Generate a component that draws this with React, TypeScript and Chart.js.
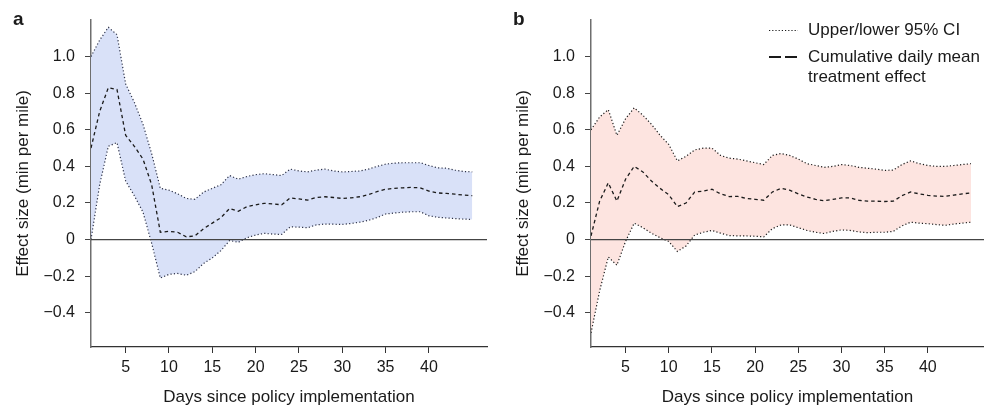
import React, { useEffect, useRef } from "react";
import { Chart, registerables } from "chart.js";
Chart.register(...registerables);

const DAYS = [1, 2, 3, 4, 5, 6, 7, 8, 9, 10, 11, 12, 13, 14, 15, 16, 17, 18, 19, 20, 21, 22, 23, 24, 25, 26, 27, 28, 29, 30, 31, 32, 33, 34, 35, 36, 37, 38, 39, 40, 41, 42, 43, 44, 45];

const A_UPPER = [1.0, 1.09, 1.16, 1.12, 0.85, 0.75, 0.63, 0.47, 0.28, 0.27, 0.25, 0.225, 0.22, 0.26, 0.28, 0.3, 0.35, 0.33, 0.345, 0.355, 0.36, 0.355, 0.35, 0.385, 0.375, 0.37, 0.38, 0.385, 0.375, 0.37, 0.372, 0.375, 0.385, 0.4, 0.412, 0.418, 0.42, 0.42, 0.42, 0.405, 0.392, 0.39, 0.38, 0.372, 0.37];
const A_MEAN = [0.5, 0.7, 0.83, 0.82, 0.57, 0.51, 0.44, 0.3, 0.04, 0.045, 0.04, 0.015, 0.02, 0.06, 0.09, 0.12, 0.17, 0.155, 0.18, 0.19, 0.198, 0.195, 0.19, 0.228, 0.222, 0.216, 0.23, 0.234, 0.23, 0.225, 0.228, 0.234, 0.245, 0.262, 0.275, 0.28, 0.283, 0.285, 0.283, 0.265, 0.255, 0.252, 0.248, 0.243, 0.24];
const A_LOWER = [0.0, 0.3, 0.51, 0.53, 0.32, 0.24, 0.15, -0.02, -0.21, -0.19, -0.185, -0.195, -0.175, -0.13, -0.1, -0.06, -0.005, -0.015, 0.01, 0.025, 0.034, 0.03, 0.028, 0.07, 0.068, 0.065, 0.08, 0.085, 0.084, 0.083, 0.088, 0.095, 0.105, 0.12, 0.14, 0.145, 0.15, 0.152, 0.152, 0.13, 0.122, 0.118, 0.115, 0.112, 0.11];

const B_UPPER = [0.6, 0.67, 0.71, 0.57, 0.66, 0.72, 0.68, 0.63, 0.57, 0.52, 0.43, 0.455, 0.49, 0.5, 0.5, 0.46, 0.445, 0.44, 0.43, 0.42, 0.41, 0.46, 0.47, 0.46, 0.44, 0.415, 0.405, 0.395, 0.4, 0.41, 0.405, 0.395, 0.39, 0.385, 0.378, 0.38, 0.41, 0.43, 0.415, 0.405, 0.4, 0.4, 0.405, 0.41, 0.415];
const B_MEAN = [0.02, 0.21, 0.31, 0.21, 0.33, 0.4, 0.37, 0.32, 0.28, 0.245, 0.18, 0.2, 0.26, 0.265, 0.275, 0.25, 0.235, 0.236, 0.225, 0.22, 0.215, 0.26, 0.28, 0.27, 0.25, 0.233, 0.22, 0.212, 0.22, 0.228, 0.228, 0.215, 0.21, 0.21, 0.208, 0.21, 0.24, 0.26, 0.25, 0.242, 0.238, 0.236, 0.243, 0.25, 0.255];
const B_LOWER = [-0.51, -0.28, -0.095, -0.14, -0.01, 0.09, 0.065, 0.035, 0.01, -0.01, -0.065, -0.035, 0.025, 0.04, 0.05, 0.035, 0.022, 0.02, 0.02, 0.018, 0.015, 0.06, 0.08, 0.08, 0.065, 0.05, 0.04, 0.033, 0.045, 0.053, 0.05, 0.042, 0.038, 0.04, 0.04, 0.045, 0.075, 0.095, 0.09, 0.087, 0.082, 0.078, 0.085, 0.09, 0.095];

const Y_TICKS = [-0.4, -0.2, 0, 0.2, 0.4, 0.6, 0.8, 1.0];
const Y_TICK_LABELS = ["\u22120.4", "\u22120.2", "0", "0.2", "0.4", "0.6", "0.8", "1.0"];
const X_TICKS = [5, 10, 15, 20, 25, 30, 35, 40];

const Y_TITLE = "Effect size (min per mile)";
const X_TITLE = "Days since policy implementation";
const LEGEND_CI = "Upper/lower 95% CI";
const LEGEND_MEAN = ["Cumulative daily mean", "treatment effect"];

const FONT = "'Liberation Sans', Arial, Helvetica, sans-serif";
const TEXT = "#1a1a1a";

type Panel = {
  label: string;
  upper: number[];
  mean: number[];
  lower: number[];
  fill: string;
  ciColor: string;
  xMax: number;
  legend: boolean;
};

const PANELS: Panel[] = [
  { label: "a", upper: A_UPPER, mean: A_MEAN, lower: A_LOWER, fill: "#d9e1f8", ciColor: "#2c3148", xMax: 46.7, legend: false },
  { label: "b", upper: B_UPPER, mean: B_MEAN, lower: B_LOWER, fill: "#fde4e0", ciColor: "#1a1a1a", xMax: 46.5, legend: true },
];

function toPoints(vals: number[]) {
  return DAYS.map((d, i) => ({ x: d, y: vals[i] }));
}

function PanelChart({ panel, left, width }: { panel: Panel; left: number; width: number }) {
  const ref = useRef<HTMLCanvasElement | null>(null);
  useEffect(() => {
    if (!ref.current) return;
    const decor = {
      id: "decor",
      afterDatasetsDraw(chart: any) {
        const { ctx, chartArea, scales } = chart;
        const y0 = scales.y.getPixelForValue(0);
        ctx.save();
        ctx.strokeStyle = "#444";
        ctx.lineWidth = 1.2;
        ctx.beginPath();
        ctx.moveTo(chartArea.left, y0);
        ctx.lineTo(chartArea.right, y0);
        ctx.stroke();
        ctx.restore();
      },
      afterDraw(chart: any) {
        const { ctx } = chart;
        ctx.save();
        ctx.fillStyle = TEXT;
        ctx.font = `bold 19px ${FONT}`;
        ctx.textBaseline = "alphabetic";
        ctx.textAlign = "left";
        ctx.fillText(panel.label, 13, 25);
        if (panel.legend) {
          const x0 = 269, x1 = 298, tx = 308;
          ctx.strokeStyle = "#1a1a1a";
          ctx.lineWidth = 1.2;
          ctx.setLineDash([1.2, 2]);
          ctx.beginPath();
          ctx.moveTo(x0, 30.5);
          ctx.lineTo(x1, 30.5);
          ctx.stroke();
          ctx.lineWidth = 2;
          ctx.setLineDash([12, 4]);
          ctx.beginPath();
          ctx.moveTo(x0, 57);
          ctx.lineTo(x1 - 1, 57);
          ctx.stroke();
          ctx.setLineDash([]);
          ctx.font = `17px ${FONT}`;
          ctx.textBaseline = "middle";
          ctx.fillText(LEGEND_CI, tx, 30);
          ctx.fillText(LEGEND_MEAN[0], tx, 57);
          ctx.fillText(LEGEND_MEAN[1], tx, 77);
        }
        ctx.restore();
      },
    };
    const chart = new Chart(ref.current, {
      type: "line",
      data: {
        datasets: [
          {
            label: "upper",
            data: toPoints(panel.upper),
            borderColor: panel.ciColor,
            borderWidth: 1.2,
            borderDash: [1.2, 2.2],
            backgroundColor: panel.fill,
            fill: "+1",
            pointRadius: 0,
            tension: 0,
            order: 2,
          },
          {
            label: "lower",
            data: toPoints(panel.lower),
            borderColor: panel.ciColor,
            borderWidth: 1.2,
            borderDash: [1.2, 2.2],
            fill: false,
            pointRadius: 0,
            tension: 0,
            order: 1,
          },
          {
            label: "mean",
            data: toPoints(panel.mean),
            borderColor: "#1a1a1a",
            borderWidth: 1.3,
            borderDash: [3.5, 3],
            fill: false,
            pointRadius: 0,
            tension: 0,
            order: 0,
          },
        ],
      } as any,
      options: {
        animation: false,
        responsive: false,
        maintainAspectRatio: false,
        layout: { padding: { left: 0, top: 20, right: width - 487, bottom: 0 } },
        plugins: { legend: { display: false }, tooltip: { enabled: false }, title: { display: false } },
        scales: {
          x: {
            type: "linear",
            min: 1,
            max: panel.xMax,
            afterFit: (s: any) => { s.height = 61; },
            afterBuildTicks: (s: any) => { s.ticks = X_TICKS.map((v) => ({ value: v })); },
            grid: { display: true, drawOnChartArea: false, drawTicks: true, tickLength: 6, tickColor: "#333", tickWidth: 1 },
            border: { display: true, color: "#333", width: 1.2 },
            ticks: { color: TEXT, font: { family: FONT, size: 16 }, padding: 5, maxRotation: 0, autoSkip: false },
            title: { display: true, text: X_TITLE, color: TEXT, font: { family: FONT, size: 17 }, padding: { top: 0, bottom: 0 } },
          },
          y: {
            type: "linear",
            min: -0.587,
            max: 1.2,
            afterFit: (s: any) => { s.width = 91; },
            afterBuildTicks: (s: any) => { s.ticks = Y_TICKS.map((v) => ({ value: v })); },
            grid: { display: true, drawOnChartArea: false, drawTicks: true, tickLength: 6, tickColor: "#444", tickWidth: 1 },
            border: { display: true, color: "#6e6e6e", width: 1.5 },
            ticks: {
              color: TEXT,
              font: { family: FONT, size: 16 },
              padding: 10,
              autoSkip: false,
              callback: (v: any) => {
                const i = Y_TICKS.findIndex((t) => Math.abs(t - Number(v)) < 1e-6);
                return i >= 0 ? Y_TICK_LABELS[i] : "";
              },
            },
            title: { display: true, text: Y_TITLE, color: TEXT, font: { family: FONT, size: 17 }, padding: { top: 13, bottom: 0 } },
          },
        },
      } as any,
      plugins: [decor],
    });
    return () => chart.destroy();
  }, [panel, left, width]);
  return (
    <canvas
      ref={ref}
      width={width}
      height={408}
      style={{ position: "absolute", left, top: 0, width, height: 408 }}
    />
  );
}

export default function App() {
  return (
    <div style={{ position: "fixed", left: 0, top: 0, width: 984, height: 408, background: "#fff", overflow: "hidden" }}>
      <PanelChart panel={PANELS[0]} left={0} width={500} />
      <PanelChart panel={PANELS[1]} left={500} width={484} />
    </div>
  );
}
